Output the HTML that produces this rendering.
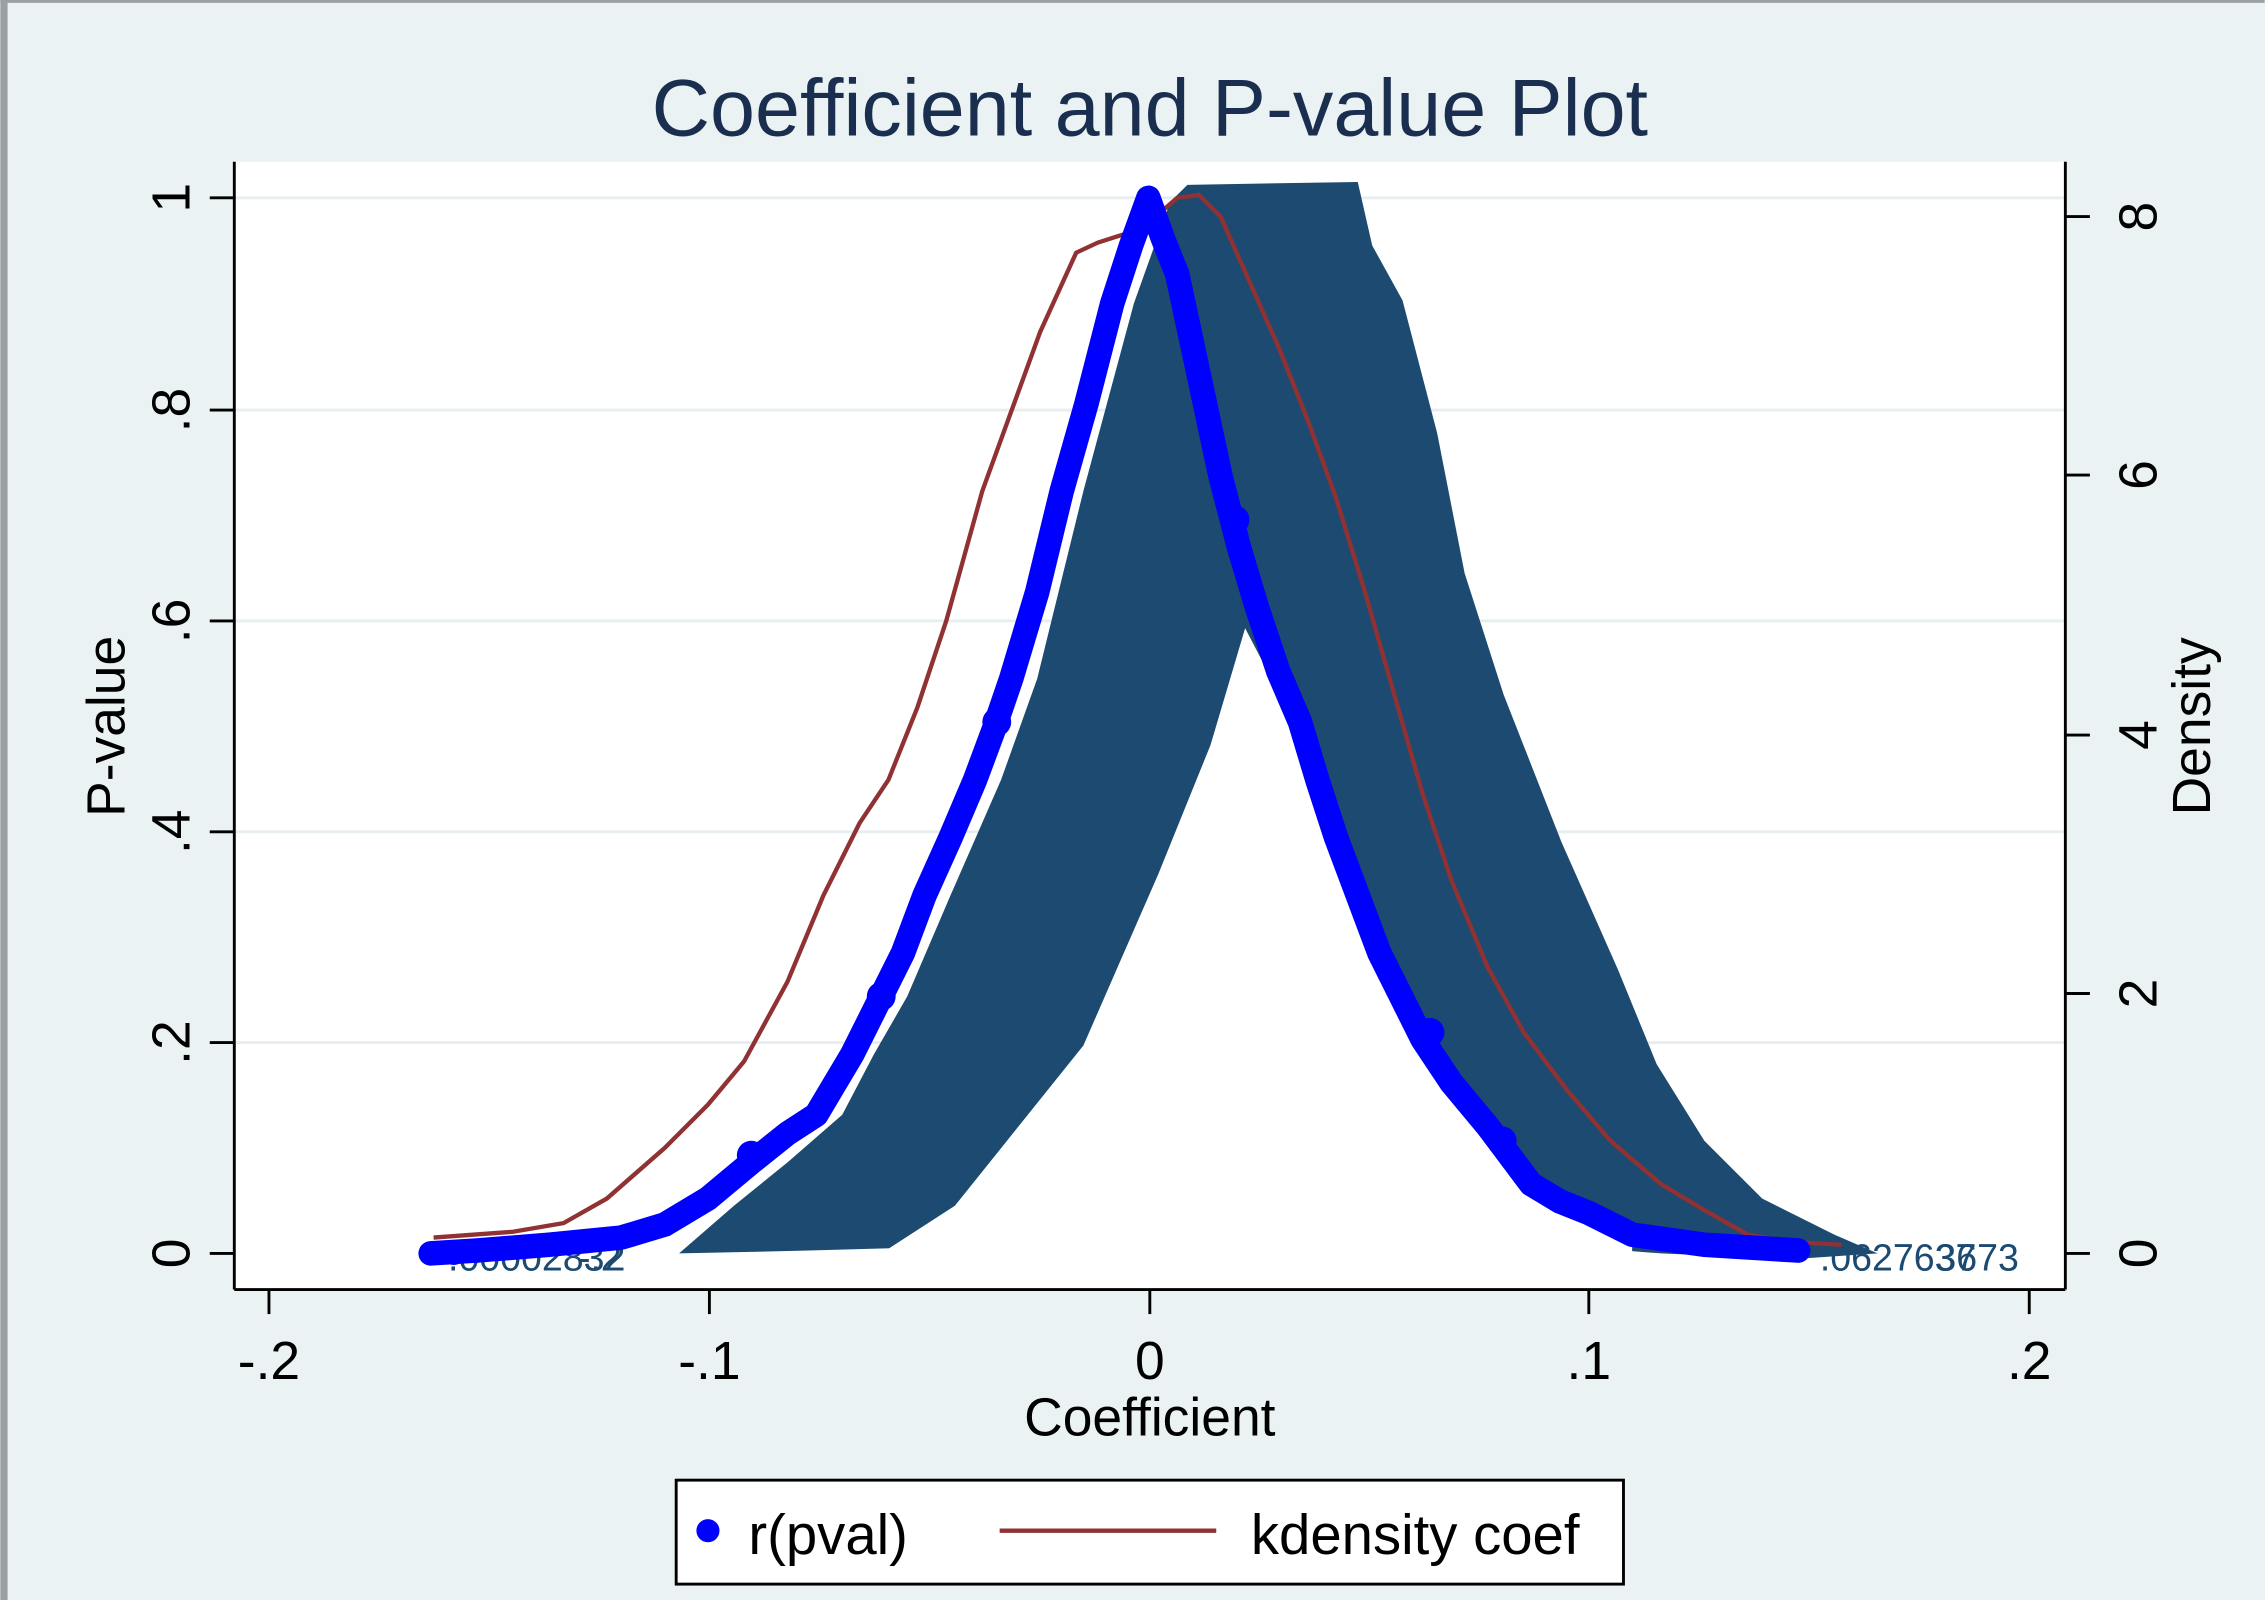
<!DOCTYPE html>
<html><head><meta charset="utf-8"><style>
html,body{margin:0;padding:0;background:#eaf2f3;}
svg{display:block;}
text{font-family:"Liberation Sans",Arial,sans-serif;}
</style></head><body>
<svg width="2265" height="1600" viewBox="0 0 1568 1108" xmlns="http://www.w3.org/2000/svg">
<rect x="0" y="0" width="1568" height="1108" fill="#eaf2f3"/>
<rect x="0" y="0" width="5" height="1108" fill="#9aa0a4"/>
<rect x="0" y="0" width="1568" height="2" fill="#9aa0a4"/>
<text x="796" y="94" font-size="56" fill="#1a2f4f" text-anchor="middle">Coefficient and P-value Plot</text>
<rect x="162" y="112" width="1268" height="781" fill="#ffffff"/>
<g stroke="#e6eef0" stroke-width="2">
<line x1="162" y1="137" x2="1430" y2="137"/><line x1="162" y1="284" x2="1430" y2="284"/>
<line x1="162" y1="430" x2="1430" y2="430"/><line x1="162" y1="576" x2="1430" y2="576"/>
<line x1="162" y1="722" x2="1430" y2="722"/>
</g>
<polygon fill="#1c4a70" points="470,868 508,835 545,805 583,772 605,730 628,690 658,620 693,540 718,470 750,340 785,210 810,140 822,128 940,126 950,170 971,208 995,300 1014,397 1041,481 1081,583 1120,671 1147,737 1180,790 1220,830 1270,855 1300,868 1240,872 1150,868 1050,860 960,858 860,860 700,862 560,866"/>
<polygon fill="#ffffff" points="610,868 661,835 750,724 802,605 838,516 862,435 875,460 900,500 925,580 955,660 985,720 1030,780 1060,820 1100,842 1130,860 1130,868"/>
<text x="310" y="880" font-size="26" fill="#1c4a70">.00002832</text>
<text x="400" y="880" font-size="26" fill="#1c4a70">-.2</text>
<text x="1260" y="880" font-size="26" fill="#1c4a70">.0627637</text>
<text x="1340" y="880" font-size="26" fill="#1c4a70">3673</text>
<polyline fill="none" stroke="#903234" stroke-width="3" points="300,857 355,853 390,847 420,830 460,795 490,765 515,735 545,680 570,620 595,570 615,540 635,490 655,430 680,340 700,285 720,230 745,175 760,168 785,160 800,150 815,137 830,135 845,150 865,195 885,240 905,290 925,345 945,410 965,480 985,550 1005,610 1030,670 1055,715 1085,755 1115,790 1150,820 1180,838 1210,855 1240,860 1275,862"/>
<polyline fill="none" stroke="#0000ff" stroke-width="17" stroke-linejoin="round" stroke-linecap="round" points="298,868 330,866 380,862 430,857 460,848 490,830 520,805 545,785 565,772 590,730 610,690 625,660 640,620 658,580 675,540 688,505 700,470 718,410 735,340 752,280 770,210 783,170 795,137 805,165 815,190 830,260 845,330 858,380 870,420 885,465 900,500 912,540 925,580 940,620 955,660 970,690 985,720 1005,750 1030,780 1045,800 1060,820 1080,832 1100,840 1130,855 1180,862 1245,866"/>
<g fill="#0000ff"><circle cx="298" cy="868" r="8"/><circle cx="314" cy="868" r="8"/><circle cx="335" cy="866" r="8"/><circle cx="1170" cy="860" r="8"/><circle cx="1245" cy="866" r="8"/><circle cx="1115" cy="848" r="8"/><circle cx="520" cy="800" r="10"/><circle cx="610" cy="690" r="10"/><circle cx="690" cy="500" r="10"/><circle cx="1040" cy="790" r="10"/><circle cx="990" cy="715" r="10"/><circle cx="855" cy="360" r="10"/></g>
<g stroke="#000" stroke-width="2">
<line x1="162" y1="893" x2="1430" y2="893"/>
<line x1="162" y1="112" x2="162" y2="893"/>
<line x1="1430" y1="112" x2="1430" y2="893"/>
<line x1="186" y1="893" x2="186" y2="910"/><line x1="491" y1="893" x2="491" y2="910"/><line x1="796" y1="893" x2="796" y2="910"/><line x1="1100" y1="893" x2="1100" y2="910"/><line x1="1405" y1="893" x2="1405" y2="910"/>
<line x1="145" y1="137" x2="162" y2="137"/><line x1="145" y1="284" x2="162" y2="284"/><line x1="145" y1="430" x2="162" y2="430"/><line x1="145" y1="576" x2="162" y2="576"/><line x1="145" y1="722" x2="162" y2="722"/><line x1="145" y1="868" x2="162" y2="868"/>
<line x1="1430" y1="150" x2="1447" y2="150"/><line x1="1430" y1="329" x2="1447" y2="329"/><line x1="1430" y1="509" x2="1447" y2="509"/><line x1="1430" y1="688" x2="1447" y2="688"/><line x1="1430" y1="868" x2="1447" y2="868"/>
</g>
<g font-size="37" fill="#000" text-anchor="middle">
<text x="186" y="955">-.2</text><text x="491" y="955">-.1</text><text x="796" y="955">0</text><text x="1100" y="955">.1</text><text x="1405" y="955">.2</text>
<text x="796" y="994">Coefficient</text>
</g>
<g font-size="37" fill="#000" text-anchor="middle">
<text transform="translate(131,137) rotate(-90)">1</text>
<text transform="translate(131,284) rotate(-90)">.8</text>
<text transform="translate(131,430) rotate(-90)">.6</text>
<text transform="translate(131,576) rotate(-90)">.4</text>
<text transform="translate(131,722) rotate(-90)">.2</text>
<text transform="translate(131,868) rotate(-90)">0</text>
<text transform="translate(86,503) rotate(-90)">P-value</text>
<text transform="translate(1493,150) rotate(-90)">8</text>
<text transform="translate(1493,329) rotate(-90)">6</text>
<text transform="translate(1493,509) rotate(-90)">4</text>
<text transform="translate(1493,688) rotate(-90)">2</text>
<text transform="translate(1493,868) rotate(-90)">0</text>
<text transform="translate(1530,503) rotate(-90)">Density</text>
</g>
<rect x="468" y="1025" width="656" height="72" fill="#fff" stroke="#000" stroke-width="2"/>
<circle cx="490" cy="1060" r="8" fill="#0000ff"/>
<text x="518" y="1076" font-size="39" fill="#000">r(pval)</text>
<line x1="692" y1="1060" x2="842" y2="1060" stroke="#903234" stroke-width="3"/>
<text x="866" y="1076" font-size="39" fill="#000">kdensity coef</text>
</svg>
</body></html>
